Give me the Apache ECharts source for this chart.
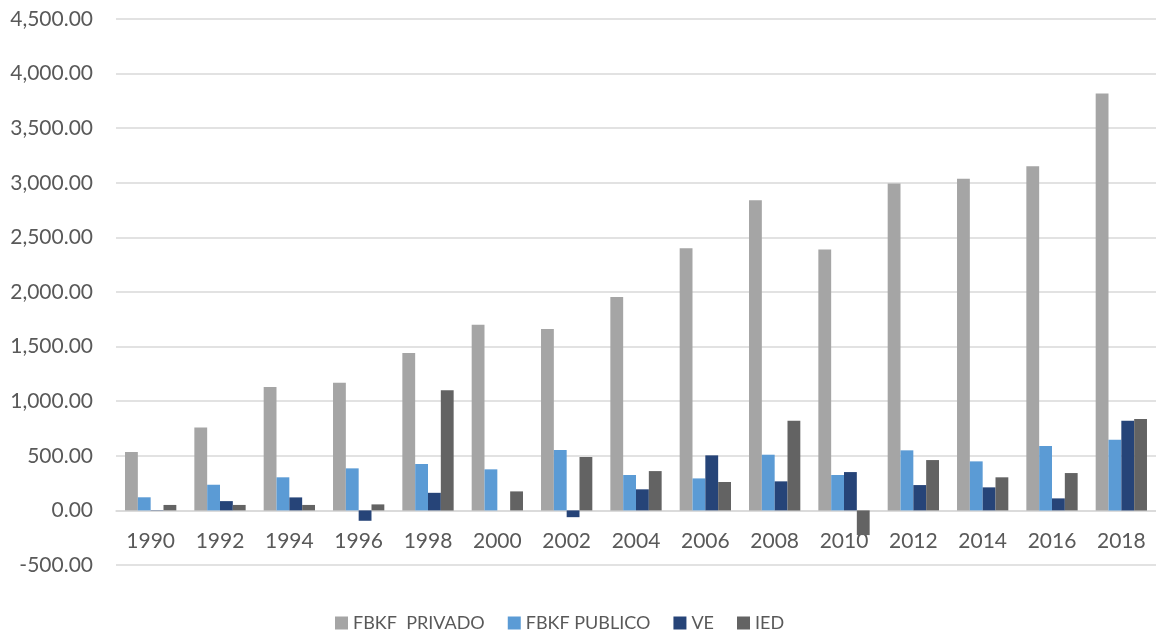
<!DOCTYPE html>
<html>
<head>
<meta charset="utf-8">
<script src="https://cdn.jsdelivr.net/npm/echarts@6/dist/echarts.min.js"></script>
<style>
  html, body { margin: 0; padding: 0; background: #ffffff; }
  #chart { width: 1156px; height: 633px; }
</style>
</head>
<body>
<div id="chart"></div>
<script>
// Years on the category axis
const years = ['1990', '1992', '1994', '1996', '1998', '2000', '2002', '2004',
               '2006', '2008', '2010', '2012', '2014', '2016', '2018'];

// Series values
const fbkfPrivado = [535, 760, 1130, 1168, 1442, 1700, 1662, 1955, 2400, 2840, 2390, 2994, 3037, 3152, 3818];
const fbkfPublico = [120, 235, 303, 385, 425, 376, 553, 324, 293, 510, 324, 550, 449, 590, 647];
const ve          = [3, 85, 119, -95, 161, 0, -62, 193, 504, 266, 351, 232, 211, 110, 822];
const ied         = [50, 50, 50, 55, 1100, 174, 489, 360, 260, 820, -226, 461, 303, 342, 837];

// Series names as shown in the legend
const seriesNames = ['FBKF  PRIVADO', 'FBKF PUBLICO', 'VE', 'IED'];
const seriesColors = ['#A5A5A5', '#5B9BD5', '#264478', '#636363'];

// Value axis range
const yMin = -500, yMax = 4500, yStep = 500;

const FONT = 'Lato, "Open Sans", sans-serif';
const TEXT_COLOR = '#595959';

const chart = echarts.init(document.getElementById('chart'), null, { renderer: 'canvas' });

const dataSets = [fbkfPrivado, fbkfPublico, ve, ied];

chart.setOption({
  animation: false,
  backgroundColor: '#ffffff',
  grid: { left: 116, right: 0, top: 19, bottom: 68, containLabel: false },
  legend: {
    top: 609,
    left: 330,
    itemWidth: 13,
    itemHeight: 13,
    itemGap: 23,
    icon: 'rect',
    textStyle: { color: TEXT_COLOR, fontSize: 18, fontFamily: FONT },
    data: seriesNames
  },
  xAxis: {
    type: 'category',
    data: years,
    axisLine: { show: true, onZero: true, lineStyle: { color: '#D9D9D9', width: 1.5 } },
    axisTick: { show: false },
    // year labels sit just under the zero line
    axisLabel: { color: TEXT_COLOR, fontSize: 21, fontFamily: FONT, margin: -34 }
  },
  yAxis: {
    type: 'value',
    min: yMin,
    max: yMax,
    interval: yStep,
    axisLine: { show: false },
    axisTick: { show: false },
    splitLine: { lineStyle: { color: '#D9D9D9', width: 1.5 } },
    axisLabel: {
      color: TEXT_COLOR,
      fontSize: 21,
      fontFamily: FONT,
      margin: 23,
      formatter: v => v.toLocaleString('en-US', { minimumFractionDigits: 2, maximumFractionDigits: 2 })
    }
  },
  series: seriesNames.map((name, i) => ({
    name: name,
    type: 'bar',
    data: dataSets[i],
    barGap: '0%',
    barCategoryGap: '26%',
    itemStyle: { color: seriesColors[i] }
  }))
});
</script>
</body>
</html>
